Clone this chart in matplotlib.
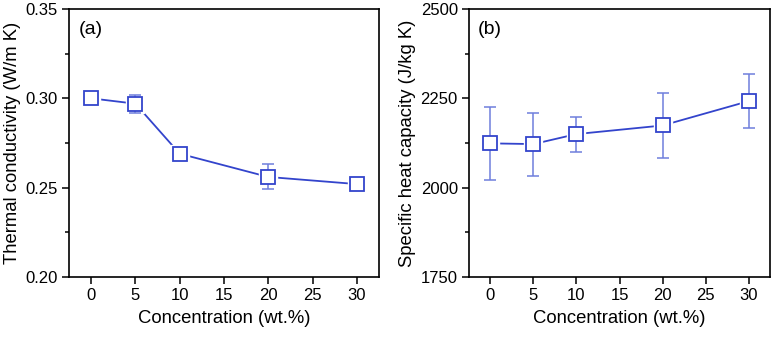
import matplotlib
matplotlib.use("Agg")
import matplotlib.pyplot as plt

plt.rcParams['font.family'] = ['Liberation Sans', 'DejaVu Sans']

# data
conc = [0, 5, 10, 20, 30]
k_vals = [0.300, 0.297, 0.269, 0.256, 0.252]
k_err = [0.001, 0.005, 0.001, 0.007, 0.003]
cp_vals = [2124, 2122, 2150, 2174, 2242]
cp_err = [103, 88, 49, 91, 76]

line_col = '#3344cc'
err_col = '#6f7fdc'

fig = plt.figure(figsize=(7.82, 3.40), dpi=100)
ax1 = fig.add_axes([0.0882, 0.1853, 0.3965, 0.7882])
ax2 = fig.add_axes([0.5997, 0.1853, 0.3850, 0.7882])


def draw_panel(ax, y, yerr, ylim, yticks, minor, ylabel, tag, fmt):
    ax.plot(conc, y, '-', color=line_col, lw=1.3, zorder=1)
    # white halo so the line stops short of the markers
    ax.plot(conc, y, 's', ms=13.5, mfc='white', mec='white', zorder=2)
    ax.errorbar(conc, y, yerr=yerr, fmt='none', ecolor=err_col,
                elinewidth=1.1, capsize=4.5, capthick=1.1, zorder=3)
    ax.plot(conc, y, 's', ms=10, mfc='white', mec=line_col, mew=1.3, zorder=4)
    ax.set_xlim(-2.5, 32.5)
    ax.set_ylim(*ylim)
    ax.set_xticks([0, 5, 10, 15, 20, 25, 30])
    ax.set_yticks(yticks)
    ax.set_yticks(minor, minor=True)
    ax.yaxis.set_major_formatter(plt.FormatStrFormatter(fmt))
    ax.tick_params(direction='out', length=5, width=1.1, labelsize=12,
                   pad=3)
    ax.tick_params(which='minor', direction='out', length=3, width=1.1)
    for s in ax.spines.values():
        s.set_linewidth(1.2)
    ax.set_xlabel('Concentration (wt.%)', fontsize=13.3, labelpad=5)
    ax.set_ylabel(ylabel, fontsize=13.3, labelpad=3)
    ax.text(0.03, 0.955, tag, transform=ax.transAxes, fontsize=14,
            va='top', ha='left')


draw_panel(ax1, k_vals, k_err, (0.20, 0.35), [0.20, 0.25, 0.30, 0.35],
           [0.225, 0.275, 0.325], 'Thermal conductivity (W/m K)', '(a)',
           '%.2f')
draw_panel(ax2, cp_vals, cp_err, (1750, 2500), [1750, 2000, 2250, 2500],
           [1875, 2125, 2375], 'Specific heat capacity (J/kg K)', '(b)',
           '%d')

fig.savefig('out.png', dpi=100)
